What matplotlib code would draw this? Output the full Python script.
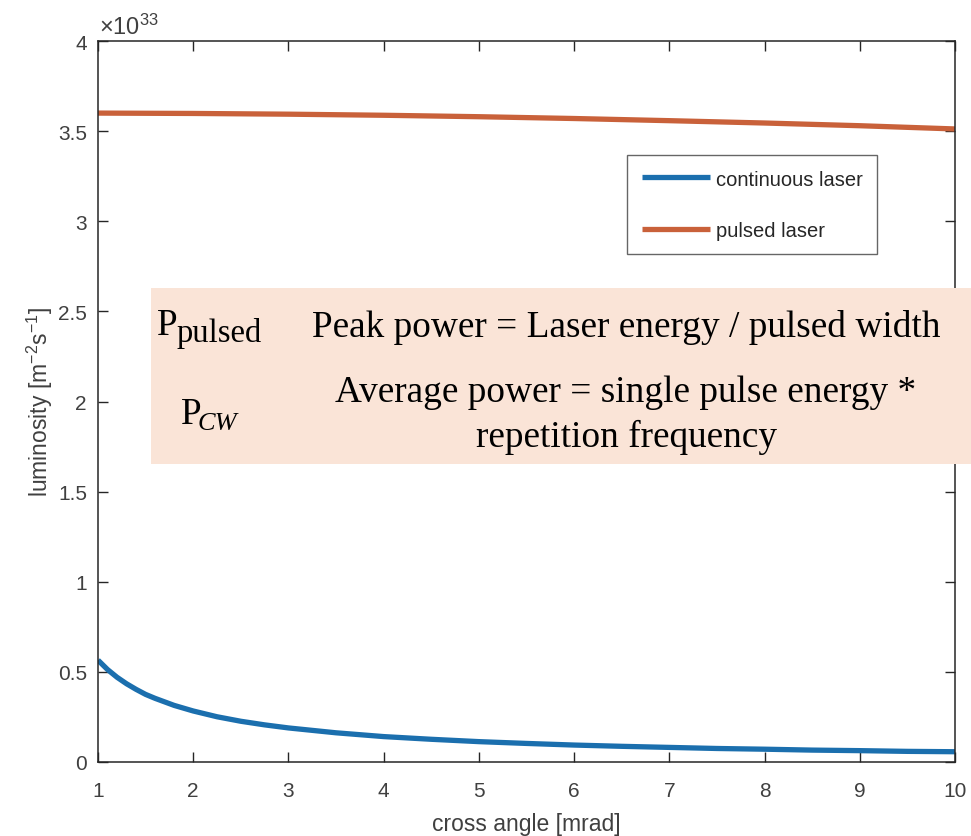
import matplotlib
matplotlib.use("Agg")
import matplotlib.pyplot as plt
from matplotlib.patches import Rectangle

# Cross angle samples [mrad]
angle_cw = [1.0, 1.1, 1.2, 1.3, 1.4, 1.5, 1.6, 1.8, 2.0, 2.25, 2.5, 2.75,
            3.0, 3.5, 4.0, 4.5, 5.0, 5.5, 6.0, 6.5, 7.0, 7.5, 8.0, 8.5,
            9.0, 9.5, 10.0]
# Luminosity for the continuous laser [x1e33 m^-2 s^-1]
lum_cw = [0.565, 0.513, 0.470, 0.434, 0.403, 0.375, 0.353, 0.314, 0.283,
          0.251, 0.226, 0.206, 0.189, 0.162, 0.141, 0.126, 0.113, 0.103,
          0.094, 0.087, 0.081, 0.075, 0.071, 0.066, 0.063, 0.059, 0.057]

angle_pulsed = [1, 2, 3, 4, 5, 6, 7, 8, 9, 10]
# Luminosity for the pulsed laser [x1e33 m^-2 s^-1]
lum_pulsed = [3.600, 3.598, 3.594, 3.588, 3.580, 3.570, 3.558, 3.545,
              3.530, 3.512]

series_labels = ["continuous laser", "pulsed laser"]
x_ticks = [1, 2, 3, 4, 5, 6, 7, 8, 9, 10]
y_ticks = [0, 0.5, 1, 1.5, 2, 2.5, 3, 3.5, 4]
y_ticklabels = ["0", "0.5", "1", "1.5", "2", "2.5", "3", "3.5", "4"]

plt.rcParams["font.family"] = ["Liberation Sans", "DejaVu Sans"]
plt.rcParams["mathtext.fontset"] = "custom"
plt.rcParams["mathtext.rm"] = "Liberation Sans"
plt.rcParams["mathtext.it"] = "Liberation Sans:italic"

W, H = 971, 837
fig = plt.figure(figsize=(W / 100, H / 100), dpi=100)
fig.patch.set_facecolor("white")

ax_l, ax_r, ax_t, ax_b = 98, 955, 42, 763
ax = fig.add_axes([ax_l / W, 1 - ax_b / H, (ax_r - ax_l) / W, (ax_b - ax_t) / H])

blue = "#1b6fae"
orange = "#c9613a"
grey = "#404040"

ax.plot(angle_cw, lum_cw, color=blue, lw=3.8, label=series_labels[0],
        solid_capstyle="butt")
ax.plot(angle_pulsed, lum_pulsed, color=orange, lw=3.8, label=series_labels[1],
        solid_capstyle="butt")

ax.set_xlim(1, 10)
ax.set_ylim(0, 4)
ax.set_xticks(x_ticks)
ax.set_yticks(y_ticks)
ax.set_yticklabels(y_ticklabels)
ax.tick_params(direction="in", length=7, width=1, top=True, right=True,
               labelsize=15, colors="#262626", labelcolor=grey)
ax.tick_params(axis="x", pad=14)
ax.tick_params(axis="y", pad=8)
for s in ax.spines.values():
    s.set_linewidth(1.1)
    s.set_color("#262626")

ax.set_xlabel("cross angle [mrad]", fontsize=16.5, color=grey, labelpad=8)
ax.set_ylabel(r"luminosity [m$^{-2}$s$^{-1}$]", fontsize=16.5, color=grey,
              labelpad=2)

# exponent marker above the y axis
fig.text(99 / W, 1 - 35 / H, r"$\times$10$^{33}$", fontsize=17, color=grey,
         ha="left", va="baseline")

leg = ax.legend(loc="upper left", bbox_to_anchor=((627 - ax_l) / (ax_r - ax_l),
                                                  (ax_b - 156) / (ax_b - ax_t)),
                fontsize=14.5, frameon=True, fancybox=False, handlelength=3.4,
                handletextpad=0.3, labelspacing=1.6, borderpad=0.72,
                borderaxespad=0)
leg.get_frame().set_edgecolor("#404040")
leg.get_frame().set_linewidth(1.0)
for t in leg.get_texts():
    t.set_color("#262626")

# annotation panel
box_l, box_t, box_r, box_b = 151, 289, 971, 465
fig.add_artist(Rectangle((box_l / W, 1 - box_b / H), (box_r - box_l) / W,
                         (box_b - box_t) / H, transform=fig.transFigure,
                         facecolor="#fae4d7", edgecolor="none", zorder=5))

serif = "Liberation Serif"


def ftext(x, y, s, size, style="normal", ha="left"):
    fig.text(x / W, 1 - y / H, s, fontsize=size, family=serif, style=style,
             ha=ha, va="baseline", color="black", zorder=6)


ftext(157, 335, "P", 26.8)
ftext(177, 342, "pulsed", 23.5)
ftext(312, 337, "Peak power = Laser energy / pulsed width", 26.8)

ftext(181, 424, "P", 26.8)
ftext(198, 430, "CW", 19, style="italic")
ftext(626, 402, "Average power = single pulse energy *", 26.8, ha="center")
ftext(626, 447, "repetition frequency", 26.8, ha="center")

fig.savefig("out.png", dpi=100)
